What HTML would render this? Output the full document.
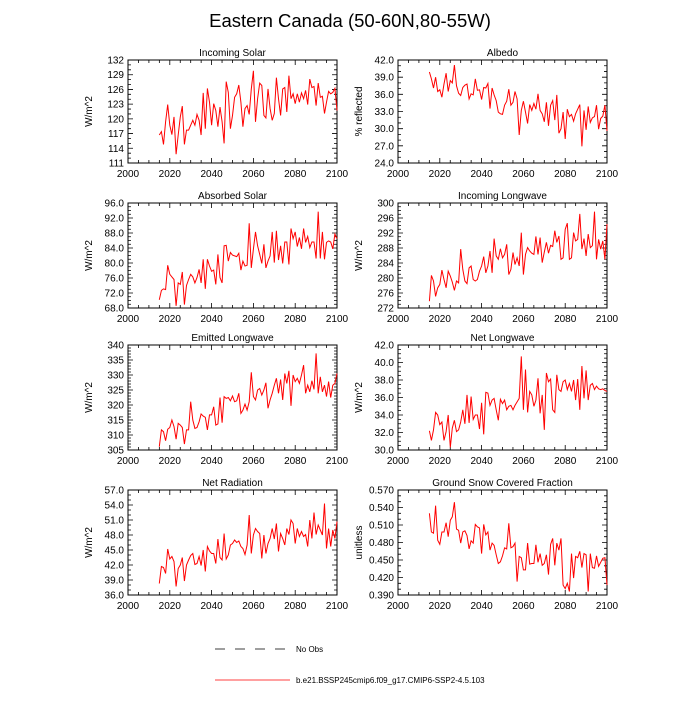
<!DOCTYPE html>
<html><head><meta charset="utf-8"><style>
body{margin:0;background:#fff;width:700px;height:700px;overflow:hidden}
svg{font-family:"Liberation Sans",sans-serif}
</style></head><body>
<svg id="c" width="700" height="700">
<text x="350" y="27" font-size="18.5" text-anchor="middle">Eastern Canada (50-60N,80-55W)</text>
<g>
<line x1="215" y1="649" x2="290" y2="649" stroke="#000" stroke-width="0.8" stroke-dasharray="10,10"/>
<text x="296" y="652" font-size="8">No Obs</text>
<line x1="215" y1="680" x2="290" y2="680" stroke="red" stroke-width="0.8"/>
<text x="296" y="683" font-size="8">b.e21.BSSP245cmip6.f09_g17.CMIP6-SSP2-4.5.103</text>
</g>
</svg>
<script>
const years=[];for(let y=2015;y<=2100;y++)years.push(y);
const xTicks=[2000,2020,2040,2060,2080,2100];
const incomingSolar=[116.7,117.4,114.8,119.4,122.9,118.7,116.8,120.4,112.8,116.7,120.4,122.6,114.8,117.7,117.7,118.7,119.7,118.7,120.9,119.7,116.7,125.3,118.0,126.2,123.4,118.7,123.1,121.7,118.4,122.4,119.4,115.0,127.6,125.4,118.0,120.7,124.4,125.1,126.9,123.4,118.4,122.1,122.7,120.9,126.1,129.8,119.4,124.1,127.3,126.8,120.7,120.2,126.1,122.1,119.7,121.1,128.4,124.1,120.7,126.1,126.4,121.4,128.8,124.1,125.1,123.1,125.1,123.4,125.3,124.1,125.8,122.9,128.1,126.4,126.6,122.7,127.3,124.4,124.6,121.1,123.4,125.6,125.1,125.4,126.2,121.7];
const albedo=[39.9,38.7,37.1,39.0,36.5,36.8,35.5,37.8,39.7,36.5,38.4,38.0,41.1,37.5,36.2,35.8,37.2,37.6,37.8,35.2,36.1,35.9,38.7,36.7,36.8,35.1,37.2,37.1,37.9,33.5,37.1,35.9,34.9,32.9,32.6,32.5,34.1,34.8,36.9,34.1,34.6,36.5,35.2,28.9,33.2,34.8,32.9,30.9,34.2,33.2,34.4,33.4,36.1,33.2,32.6,31.2,34.6,30.5,34.1,34.9,31.5,35.9,29.2,30.0,32.9,28.2,33.4,32.1,32.5,31.3,32.6,33.4,34.2,26.9,33.2,29.8,33.9,31.1,31.9,32.1,34.1,29.9,31.8,32.2,34.1,29.6];
const absorbedSolar=[70.2,72.7,73.1,72.9,79.4,77.0,76.3,75.6,68.6,74.7,74.3,77.6,68.9,74.0,75.6,77.0,76.3,74.7,76.1,78.3,74.7,81.0,73.1,81.0,79.2,77.8,78.1,74.3,82.3,76.1,74.7,84.6,84.7,80.5,82.8,82.1,81.9,81.7,82.6,78.1,80.5,79.2,79.4,90.6,78.7,83.7,88.3,84.6,82.3,79.9,85.0,78.7,80.5,81.9,88.3,80.1,88.6,80.8,84.6,79.9,85.6,85.6,79.6,89.2,86.5,88.3,84.4,86.8,83.8,89.2,85.5,87.1,84.1,85.6,85.6,81.2,93.7,81.2,88.3,81.0,85.5,85.9,85.6,83.8,87.7,86.5];
const incomingLW=[273.8,280.7,279.2,275.1,277.4,278.3,282.1,279.6,277.4,281.8,280.5,278.9,276.7,279.2,278.7,287.7,282.3,279.2,278.5,282.7,283.2,279.6,279.2,279.6,281.8,283.2,285.7,281.4,283.2,287.2,281.4,290.5,285.9,285.0,287.8,285.4,286.3,289.0,280.9,282.3,286.8,283.6,285.4,283.2,292.1,280.9,286.3,288.1,287.2,286.6,286.3,291.1,286.3,290.8,284.1,286.9,289.5,286.6,288.7,288.4,292.6,289.5,291.2,285.0,285.4,293.0,294.6,285.0,285.4,292.1,289.9,290.3,297.1,287.7,290.5,285.9,291.7,288.1,288.6,297.7,285.0,290.3,287.7,289.9,285.0,294.4];
const emittedLW=[306.1,311.7,311.1,308.1,311.9,312.5,315.0,312.8,308.6,313.9,313.3,312.5,307.0,311.7,311.7,321.1,315.0,312.2,312.5,314.4,317.0,316.3,315.9,311.7,316.7,316.7,319.4,313.3,313.7,322.5,314.1,322.8,322.2,322.5,321.4,323.0,321.1,321.4,323.9,317.2,318.3,320.3,318.3,321.1,330.9,322.8,321.7,325.0,325.5,323.3,325.0,327.4,318.9,321.7,323.9,326.6,328.9,323.9,328.5,321.7,330.5,327.2,331.4,319.7,330.0,327.8,328.9,327.2,330.0,333.3,323.9,326.6,324.4,328.1,325.2,337.2,323.9,329.4,324.4,326.6,322.8,327.8,322.5,326.6,327.2,330.5];
const netLW=[32.2,31.1,32.3,34.3,34.0,32.9,33.2,31.1,32.1,34.0,30.3,32.5,33.4,32.1,32.3,33.2,34.6,33.0,36.3,33.1,36.1,33.5,34.0,34.0,32.4,35.4,31.8,36.6,36.5,35.1,35.7,35.9,34.6,33.4,35.8,35.3,35.7,34.6,35.0,35.1,34.6,35.1,35.5,35.9,40.7,34.6,39.2,34.3,36.7,36.3,35.0,35.7,38.2,34.2,36.3,32.3,38.8,37.8,38.1,34.6,34.3,38.6,36.9,36.7,37.8,38.0,36.9,37.6,36.7,38.0,35.7,38.1,34.6,39.6,35.9,39.1,35.7,37.4,37.6,36.9,37.3,37.0,36.9,37.0,36.8,36.7];
const netRad=[38.3,41.7,41.5,40.3,45.2,43.2,43.7,42.7,37.7,41.3,42.0,43.5,38.8,42.0,43.0,43.9,44.3,42.1,42.3,43.7,41.9,45.0,40.7,45.7,44.8,44.3,44.3,42.3,47.2,43.5,43.0,48.3,43.2,44.0,46.0,46.3,47.0,46.5,46.8,45.7,45.3,44.1,46.0,52.0,44.3,48.0,49.3,48.7,48.3,43.3,48.0,44.3,46.3,47.3,49.3,47.2,50.3,44.7,48.3,47.3,46.0,49.3,48.1,51.0,50.3,46.3,49.3,47.7,48.7,47.7,48.1,45.7,51.0,47.3,52.5,48.1,50.0,49.0,48.0,54.3,45.3,49.3,45.7,49.0,47.3,50.7];
const snowFrac=[.530,.498,.496,.543,.484,.477,.498,.498,.514,.490,.518,.524,.549,.503,.501,.479,.498,.500,.492,.469,.483,.479,.511,.507,.505,.461,.511,.493,.498,.467,.479,.475,.459,.444,.447,.457,.471,.469,.513,.471,.473,.479,.413,.456,.454,.433,.433,.479,.443,.444,.444,.476,.446,.461,.441,.444,.459,.425,.477,.487,.441,.479,.467,.487,.407,.401,.410,.396,.461,.419,.456,.454,.465,.437,.461,.459,.396,.461,.437,.436,.457,.439,.446,.453,.454,.407];

const panels=[
 {name:'incoming-solar',title:'Incoming Solar',unit:'W/m^2',data:incomingSolar,min:111,max:132,step:3,dec:0,minor:3,col:0,row:0},
 {name:'albedo',title:'Albedo',unit:'% reflected',data:albedo,min:24,max:42,step:3,dec:1,minor:3,col:1,row:0},
 {name:'absorbed-solar',title:'Absorbed Solar',unit:'W/m^2',data:absorbedSolar,min:68,max:96,step:4,dec:1,minor:4,col:0,row:1},
 {name:'incoming-longwave',title:'Incoming Longwave',unit:'W/m^2',data:incomingLW,min:272,max:300,step:4,dec:0,minor:4,col:1,row:1},
 {name:'emitted-longwave',title:'Emitted Longwave',unit:'W/m^2',data:emittedLW,min:305,max:340,step:5,dec:0,minor:5,col:0,row:2},
 {name:'net-longwave',title:'Net Longwave',unit:'W/m^2',data:netLW,min:30,max:42,step:2,dec:1,minor:4,col:1,row:2},
 {name:'net-radiation',title:'Net Radiation',unit:'W/m^2',data:netRad,min:36,max:57,step:3,dec:1,minor:3,col:0,row:3},
 {name:'snow-fraction',title:'Ground Snow Covered Fraction',unit:'unitless',data:snowFrac,min:0.39,max:0.57,step:0.03,dec:3,minor:3,col:1,row:3}
];
const svg=document.getElementById('c');
const NS='http://www.w3.org/2000/svg';
function mk(tag,attrs,parent){const e=document.createElementNS(NS,tag);for(const k in attrs)e.setAttribute(k,attrs[k]);parent.appendChild(e);return e;}
const colX=[128,398],W=209;
const rowY=[[60,163],[203,308],[345,450],[490,595]];
panels.forEach(p=>{
 const x0=colX[p.col],x1=x0+W,y0=rowY[p.row][0],y1=rowY[p.row][1];
 const g=mk('g',{},svg);
 
 
 const xs=v=>x0+(v-2000)/100*W;
 const ys=v=>y1-(v-p.min)/(p.max-p.min)*(y1-y0);
 const t=mk('text',{x:(x0+x1)/2,y:y0-4,'font-size':10,'text-anchor':'middle'},g);t.textContent=p.title;
 
 
 const u=mk('text',{x:0,y:0,'font-size':10,'text-anchor':'middle',transform:`translate(${x0-36},${(y0+y1)/2}) rotate(-90)`},g);u.textContent=p.unit;
 
 
 let d='';
 const n=Math.round((p.max-p.min)/p.step);
 for(let i=0;i<=n;i++){
  const v=p.min+i*p.step,y=ys(v);
  d+=`M${x0},${y}h5M${x1},${y}h-5`;
  const lb=mk('text',{x:x0-4,y:y+3.5,'font-size':10,'text-anchor':'end'},g);lb.textContent=v.toFixed(p.dec);
  
  
  if(i<n)for(let k=1;k<p.minor;k++){const ym=ys(v+p.step*k/p.minor);d+=`M${x0},${ym}h3M${x1},${ym}h-3`;}
 }
 xTicks.forEach((v,i)=>{
  const x=xs(v);d+=`M${x},${y1}v-5M${x},${y0}v5`;
  const lb=mk('text',{x:x,y:y1+14,'font-size':10,'text-anchor':'middle'},g);lb.textContent=v;
  
  
  if(i<xTicks.length-1)for(let k=1;k<4;k++){const xm=xs(v+5*k);d+=`M${xm},${y1}v-3M${xm},${y0}v3`;}
 });
 mk('path',{d:d,stroke:'#000','stroke-width':0.8,fill:'none'},g);
 const r=mk('rect',{x:x0,y:y0,width:W,height:y1-y0,fill:'none',stroke:'#000','stroke-width':1},g);
 
 
 const pts=p.data.map((v,i)=>xs(years[i]).toFixed(1)+','+ys(v).toFixed(1)).join(' ');
 const l=mk('polyline',{points:pts,fill:'none',stroke:'red','stroke-width':1},g);
 
 
});
</script>
</body></html>
